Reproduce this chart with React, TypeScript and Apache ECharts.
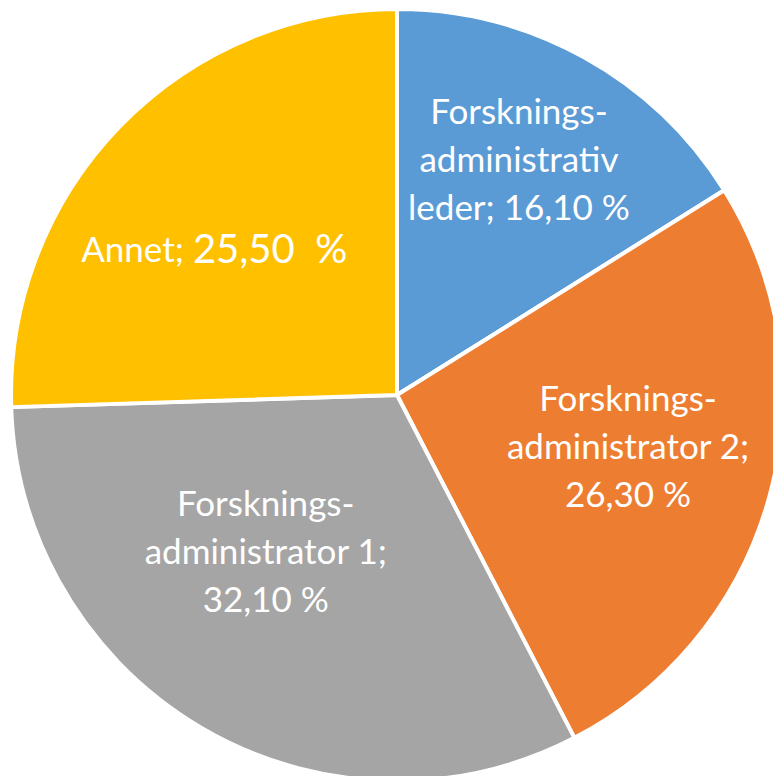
import React, { useEffect, useRef } from "react";
import * as echarts from "echarts";

const categories = [
  "Forsknings-\nadministrativ\nleder",
  "Forsknings-\nadministrator 2",
  "Forsknings-\nadministrator 1",
  "Annet",
];
const values = [16.1, 26.3, 32.1, 25.5];
const colors = ["#5B9BD5", "#ED7D31", "#A5A5A5", "#FFC000"];
const separators = [" ", "\n", "\n", " "];
const labelShift = [
  [27, -66],
  [42, -2],
  [-32, -14],
  [-42, -11],
];

const fmt = (v: number) => v.toFixed(2).replace(".", ",");

export default function App() {
  const ref = useRef<HTMLDivElement>(null);
  useEffect(() => {
    if (!ref.current) return;
    const chart = echarts.init(ref.current, undefined, { renderer: "svg" });
    chart.setOption({
      animation: false,
      backgroundColor: "#ffffff",
      series: [
        {
          type: "pie",
          center: [397, 395],
          radius: [0, 386],
          startAngle: 90,
          clockwise: true,
          avoidLabelOverlap: false,
          itemStyle: { borderColor: "#ffffff", borderWidth: 4 },
          label: {
            show: true,
            position: "inside",
            color: "#ffffff",
            fontFamily: "Lato",
            fontSize: 35,
            lineHeight: 48,
            align: "center",
            formatter: (p: any) =>
              p.dataIndex === 3
                ? `{a|${p.name};} {b|${fmt(p.value)}  %}`
                : `${p.name};${separators[p.dataIndex]}${fmt(p.value)} %`,
            rich: {
              a: { fontFamily: "Lato", fontSize: 35, color: "#ffffff" },
              b: { fontFamily: "Lato", fontSize: 40, color: "#ffffff" },
            },
          },
          labelLayout: (p: any) => ({
            dx: labelShift[p.dataIndex][0],
            dy: labelShift[p.dataIndex][1],
          }),
          labelLine: { show: false },
          data: categories.map((c, i) => ({
            name: c,
            value: values[i],
            itemStyle: { color: colors[i] },
          })),
        },
      ],
    });
    return () => chart.dispose();
  }, []);
  return (
    <div
      ref={ref}
      style={{ position: "fixed", left: 0, top: 0, width: 773, height: 776 }}
    />
  );
}
